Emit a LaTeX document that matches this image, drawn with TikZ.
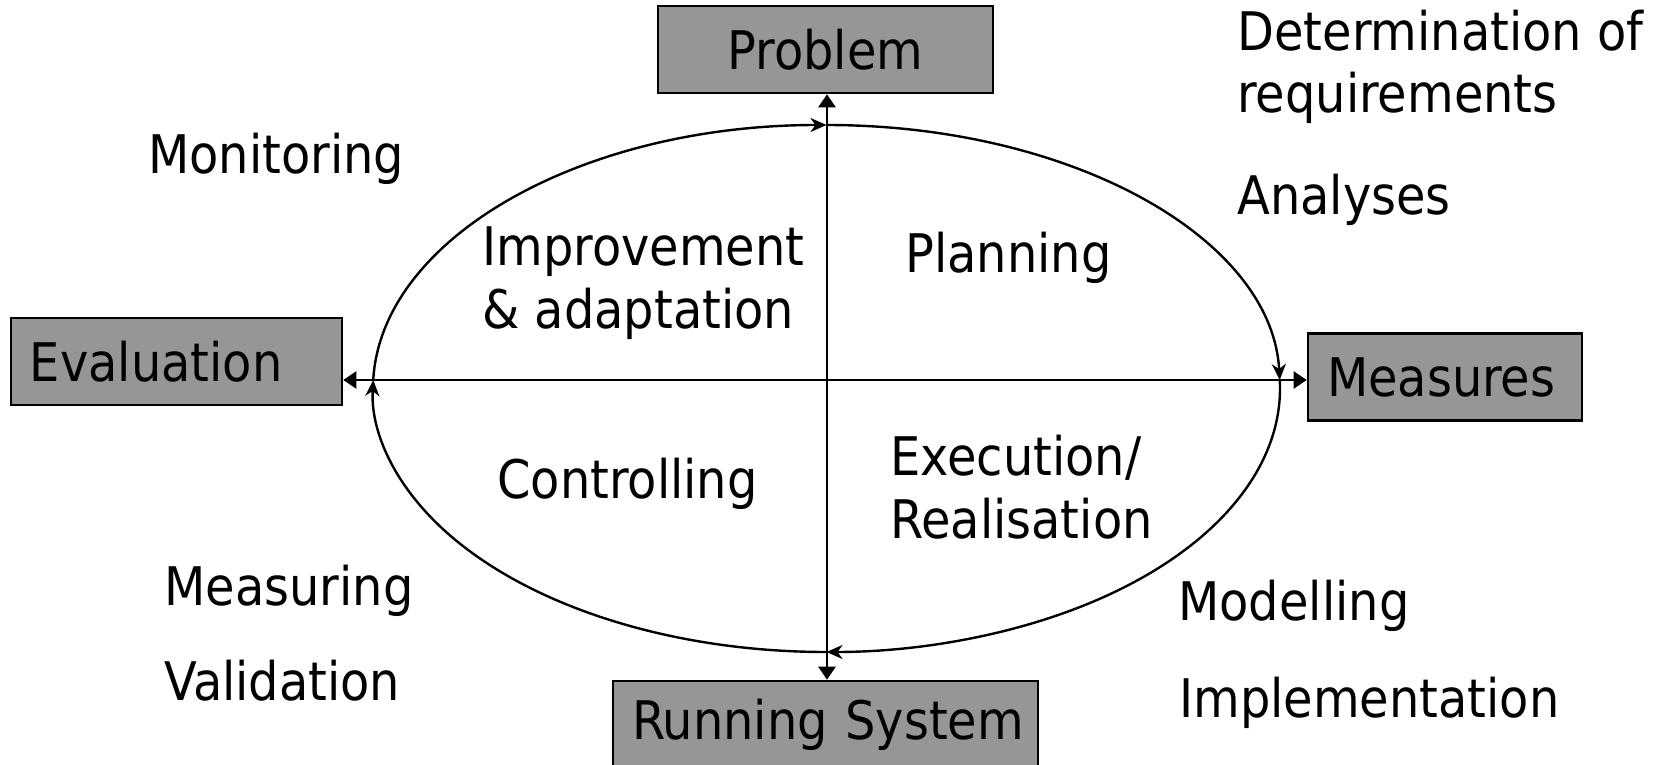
\documentclass[tikz,border=0pt]{standalone}
\usepackage{fontspec}
\setmainfont{DejaVu Sans Condensed}
\usetikzlibrary{arrows.meta}
\definecolor{boxgray}{RGB}{150,150,150}
\tikzset{
  lbl/.style={anchor=base west, inner sep=0pt, align=left, font=\fontsize{26.6}{31.5}\selectfont},
  boxnode/.style={draw=black, line width=1.3pt, fill=boxgray, inner ysep=0pt, inner xsep=9.5pt,
     minimum height=43.5pt, font=\fontsize{26.6}{31.5}\selectfont},
  axis/.style={line width=1.2pt, {Triangle[length=6.5pt,width=8.5pt]}-{Triangle[length=6.5pt,width=8.5pt]}},
  ring/.style={line width=1.2pt, -{Stealth[length=8pt,width=7pt,inset=2.5pt]}}
}
\begin{document}
\begin{tikzpicture}[x=0.5pt,y=-0.5pt]
\clip (0,0) rectangle (1661,765);
\fill[white] (0,0) rectangle (1661,765);
% boxes
\node[boxnode, minimum width=167.5pt, align=center] (prob) at (825.5,49.5) {Problem};
\node[boxnode, text width=146.5pt, align=left] (eval) at (176.5,361.5) {\mbox{Evaluation}};
\node[boxnode, text width=118pt, align=left] (meas) at (1445,377) {\mbox{Measures}};
\node[boxnode, text width=193.5pt, align=left, minimum height=44pt] (run) at (825.5,725) {\mbox{Running System}};
% axes
\coordinate (hc) at (827,380);
\draw[axis] (eval.east |- hc) -- (meas.west |- hc);
\draw[axis] (prob.south -| hc) -- (run.north -| hc);
% ellipse points
\coordinate (eL) at (373.24,380);
\coordinate (eT) at (826.5,125);
\coordinate (eR) at (1279.76,380);
\coordinate (eB) at (826.5,652);
\draw[ring] (eL) arc[start angle=181.85, end angle=270, x radius=453.5, y radius=263.5];
\draw[ring] (eT) arc[start angle=270, end angle=358.15, x radius=453.5, y radius=263.5];
\draw[ring] (eR) arc[start angle=-1.85, end angle=90, x radius=453.5, y radius=263.5];
\draw[ring] (eB) arc[start angle=90, end angle=181.85, x radius=453.5, y radius=263.5];
% labels (base anchor = baseline of the last line)
\node[lbl] (mon) at (148,174) {Monitoring};
\node[lbl] (det) at (1237,113) {Determination of\\requirements};
\node[lbl] (ana) at (1237,214) {Analyses};
\node[lbl] (imp) at (482,328) {Improvement\\\& adaptation};
\node[lbl] (pla) at (905,272) {Planning};
\node[lbl] (con) at (497,498) {Controlling};
\node[lbl] (exe) at (890,538) {Execution/\\Realisation};
\node[lbl] (mea) at (164,605) {Measuring};
\node[lbl] (val) at (164,700) {Validation};
\node[lbl] (mod) at (1178,620) {Modelling};
\node[lbl] (impl) at (1179,717) {Implementation};
\end{tikzpicture}
\end{document}
